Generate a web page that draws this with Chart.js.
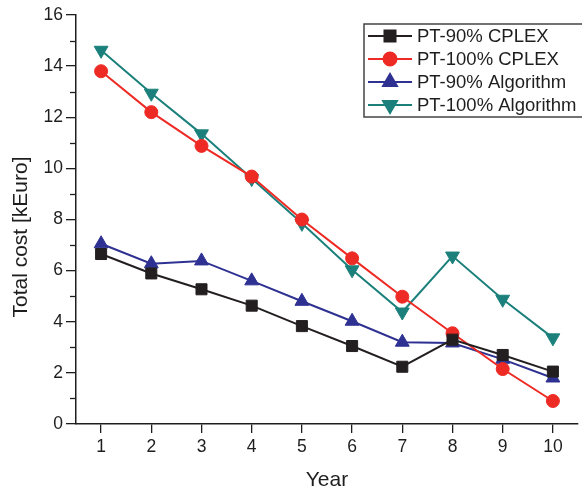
<!DOCTYPE html>
<html>
<head>
<meta charset="utf-8">
<script src="https://cdn.jsdelivr.net/npm/chart.js@4.4.1/dist/chart.umd.min.js"></script>
<style>
  html, body { margin: 0; padding: 0; background: #fff; }
  #wrap { width: 582px; height: 494px; }
</style>
</head>
<body>
<div id="wrap"><canvas id="costChart" width="582" height="494"></canvas></div>
<script>
// yearly total cost in kEuro
const years = ['1', '2', '3', '4', '5', '6', '7', '8', '9', '10'];
const pt90Cplex = [6.65, 5.89, 5.27, 4.63, 3.83, 3.05, 2.24, 3.3, 2.7, 2.05];
const pt100Cplex = [13.8, 12.2, 10.88, 9.68, 8.0, 6.48, 4.98, 3.55, 2.15, 0.9];
const pt90Algo = [7.05, 6.27, 6.38, 5.6, 4.8, 4.02, 3.2, 3.17, 2.53, 1.8];
const pt100Algo = [14.62, 12.94, 11.35, 9.6, 7.85, 6.03, 4.38, 6.57, 4.88, 3.37];
const yTicks = [0, 2, 4, 6, 8, 10, 12, 14, 16];

const FONT = "'Liberation Sans', Arial, sans-serif";
const AXIS = '#1e1e1e';

const series = [
    { label: 'PT-90% CPLEX', data: pt90Cplex, color: '#231f20', style: 'rect', radius: 7.8, rotation: 0 },
    { label: 'PT-100% CPLEX', data: pt100Cplex, color: '#ee2a24', style: 'circle', radius: 6.5, rotation: 0 },
    { label: 'PT-90% Algorithm', data: pt90Algo, color: '#2e3192', style: 'triangle', radius: 8, rotation: 0 },
    { label: 'PT-100% Algorithm', data: pt100Algo, color: '#1b807b', style: 'triangle', radius: 8, rotation: 180 }
];

// minor ticks on the y axis, axis titles and the boxed legend
const extras = {
    id: 'extras',
    afterDraw(chart) {
        const ctx = chart.ctx;
        const y = chart.scales.y;
        const left = chart.chartArea.left;

        ctx.save();
        ctx.strokeStyle = AXIS;
        ctx.lineWidth = 1.3;
        for (let v = 1; v < 16; v += 2) {
            const py = Math.round(y.getPixelForValue(v)) + 0.5;
            ctx.beginPath();
            ctx.moveTo(left - 6, py);
            ctx.lineTo(left, py);
            ctx.stroke();
        }

        // axis titles
        ctx.fillStyle = AXIS;
        ctx.font = '21px ' + FONT;
        ctx.textAlign = 'center';
        ctx.textBaseline = 'middle';
        ctx.fillText('Year', (chart.chartArea.left + chart.chartArea.right) / 2, 480);
        ctx.save();
        ctx.translate(21, 237);
        ctx.rotate(-Math.PI / 2);
        ctx.fillText('Total cost [kEuro]', 0, 0);
        ctx.restore();

        // legend
        const bx = 364, by = 24, rowH = 23;
        ctx.strokeStyle = '#444';
        ctx.lineWidth = 1.5;
        ctx.strokeRect(bx, by, 240, 93);
        ctx.font = '18.5px ' + FONT;
        ctx.textAlign = 'left';
        series.forEach((s, i) => {
            const cy = by + 12 + i * rowH;
            ctx.strokeStyle = s.color;
            ctx.lineWidth = 2;
            ctx.beginPath();
            ctx.moveTo(368, cy);
            ctx.lineTo(412, cy);
            ctx.stroke();
            ctx.fillStyle = s.color;
            Chart.helpers.drawPoint(ctx, {
                pointStyle: s.style,
                radius: s.radius,
                rotation: s.rotation,
                borderWidth: 1
            }, 390, cy);
            ctx.fillStyle = AXIS;
            ctx.fillText(s.label, 417, cy + 1);
        });
        ctx.restore();
    }
};

new Chart(document.getElementById('costChart'), {
    type: 'line',
    data: {
        labels: years,
        datasets: series.map(s => ({
            label: s.label,
            data: s.data,
            borderColor: s.color,
            backgroundColor: s.color,
            borderWidth: 2,
            tension: 0,
            pointStyle: s.style,
            pointRadius: s.radius,
            pointRotation: s.rotation,
            pointBorderWidth: 1,
            pointBorderColor: s.color,
            pointBackgroundColor: s.color
        }))
    },
    options: {
        responsive: false,
        animation: false,
        layout: { autoPadding: false, padding: { left: 0, right: 4, top: 15, bottom: 0 } },
        plugins: {
            legend: { display: false },
            tooltip: { enabled: false }
        },
        scales: {
            x: {
                type: 'category',
                offset: true,
                grid: {
                    drawOnChartArea: false,
                    drawTicks: true,
                    tickLength: 9,
                    color: AXIS,
                    lineWidth: 1.3
                },
                border: { display: true, color: AXIS, width: 1.5 },
                ticks: {
                    color: AXIS,
                    padding: 4,
                    font: { family: FONT, size: 17.5 },
                    maxRotation: 0
                },
                afterFit(scale) {
                    scale.height = 70;
                    scale.paddingLeft = 0;
                    scale.paddingRight = 0;
                }
            },
            y: {
                min: 0,
                max: 16,
                grid: {
                    drawOnChartArea: false,
                    drawTicks: true,
                    tickLength: 10,
                    color: AXIS,
                    lineWidth: 1.3
                },
                border: { display: true, color: AXIS, width: 1.5 },
                afterBuildTicks(scale) {
                    scale.ticks = yTicks.map(v => ({ value: v }));
                },
                ticks: {
                    color: AXIS,
                    padding: 3,
                    font: { family: FONT, size: 17.5 }
                },
                afterFit(scale) { scale.width = 76; }
            }
        }
    },
    plugins: [extras]
});
</script>
</body>
</html>
